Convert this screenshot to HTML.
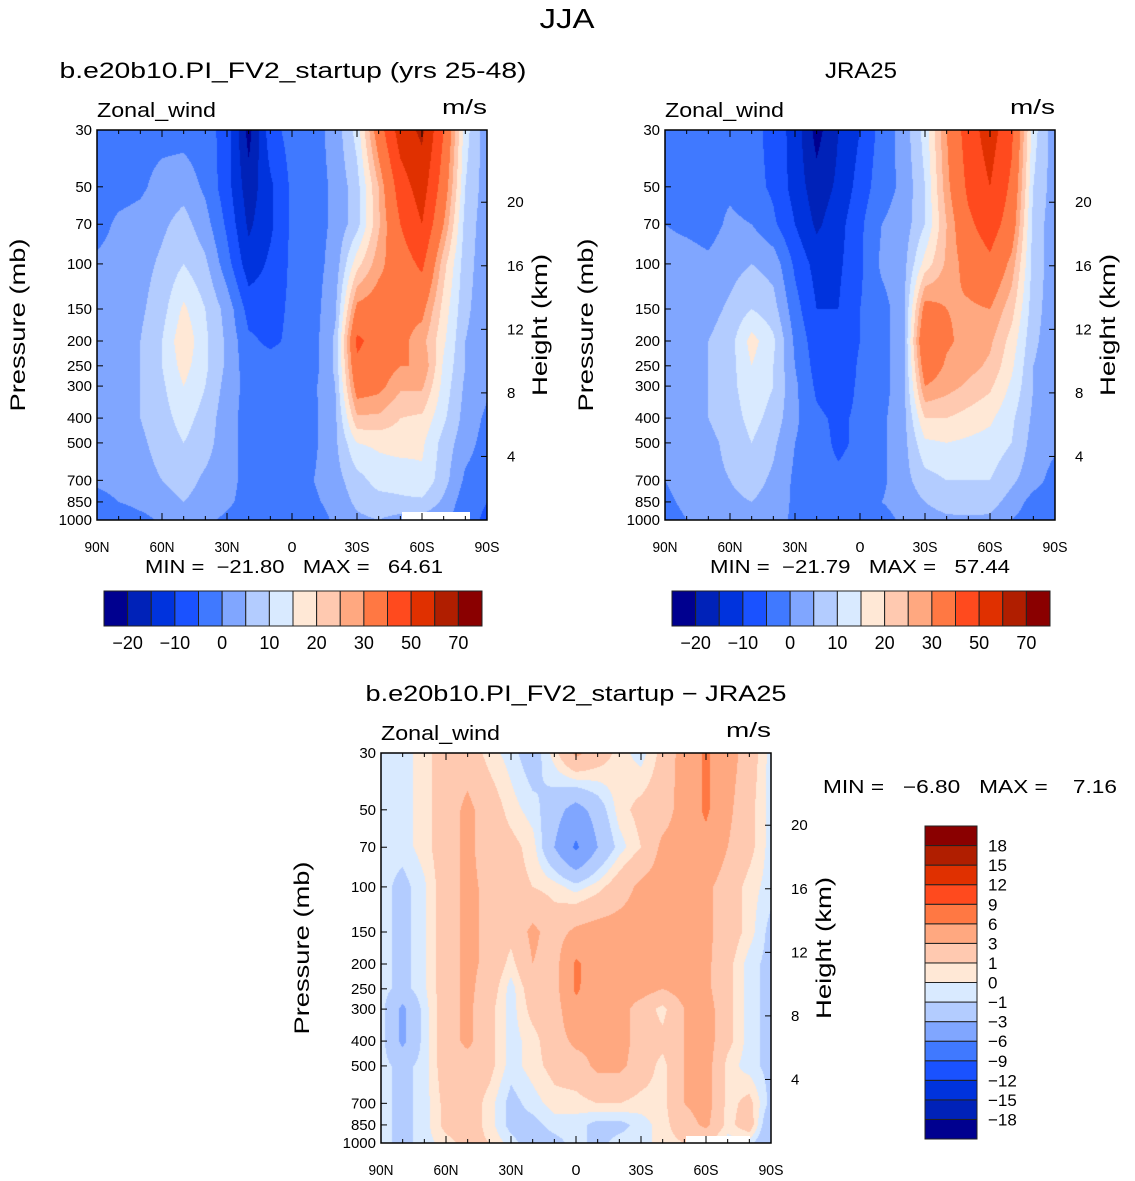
<!DOCTYPE html>
<html><head><meta charset="utf-8">
<style>
body{margin:0;background:#fff;width:1135px;height:1181px;position:relative;overflow:hidden;font-family:"Liberation Sans",sans-serif}
canvas{position:absolute}
svg{position:absolute;left:0;top:0}
text{font-family:"Liberation Sans",sans-serif;fill:#000;white-space:pre}
</style></head><body>
<canvas id="c1" width="390" height="390" style="left:97px;top:130px"></canvas>
<canvas id="c2" width="390" height="390" style="left:665px;top:130px"></canvas>
<canvas id="c3" width="390" height="390" style="left:381px;top:753px"></canvas>
<svg id="ov" width="1135" height="1181"></svg>
<script>
const lats=[90,80,70,60,50,40,30,20,10,0,-10,-20,-30,-40,-50,-60,-70,-80,-90];
const pres=[30,50,70,100,150,200,250,300,400,500,700,850,1000];
const modelU=[
[-2,-2,-2,-2,-2,-3,-7,-22,-7,-3,-2,2,12,35,55,62,40,12,2],
[-2,-2,-1,2,3,-1,-8,-18,-11,-4,-2,1,8,25,45,55,35,10,2],
[-2,1,2,4,7,2,-6,-16,-11,-4,-2,1,8,24,40,50,30,8,2],
[1,2,3,6,10,6,-3,-13,-9,-4,-2,2,18,28,35,42,22,7,2],
[1,3,4,8,16,10,3,-7,-7,-4,-2,4,32,34,32,32,18,6,2],
[2,3,5,10,19,11,4,-4,-6,-4,-2,6,42,36,32,27,16,5,2],
[2,3,5,10,17,11,4,-3,-3,-3,-2,6,38,34,30,30,14,5,2],
[2,3,5,9,15,10,3,-2,-3,-3,-1,5,34,32,26,26,13,4,1],
[2,3,5,8,12,8,2,-2,-3,-3,-1,4,24,24,20,19,11,3,-1],
[1,3,4,7,10,7,2,-2,-3,-3,-1,4,15,16,17,16,8,2,-2],
[1,2,3,5,7,4,2,-2,-3,-3,0,3,8,12,12,14,7,-1,-3],
[-2,0,2,3,5,3,1,-2,-3,-4,-1,2,6,8,9,9,4,-3,-5],
[-3,-5,-2,1,2,1,-1,-3,-3,-5,-3,1,4,5,3,3,1,-3,-6]];
const jraU=[
[-2,-2,-2,-2,-3,-7,-12,-22,-15,-10,-3,2,12,30,45,55,42,12,2],
[-2,-2,-1,-1,-3,-6,-12,-18,-14,-8,-2,1,10,28,42,50,38,10,2],
[0,-1,-2,1,0,-4,-10,-16,-12,-6,0,2,10,25,38,45,35,8,2],
[2,2,1,3,5,3,-6,-12,-11,-6,1,3,17,26,33,38,28,8,2],
[2,3,3,6,10,7,-3,-10,-10,-5,-2,3,33,30,29,30,22,7,2],
[2,4,5,8,17,11,-1,-8,-10,-5,-2,3,40,31,28,26,18,6,2],
[2,4,5,8,15,10,0,-7,-10,-4,-2,3,35,29,27,24,16,5,2],
[2,4,5,8,14,10,1,-6,-8,-4,-2,3,30,27,24,21,14,5,2],
[2,3,5,7,12,8,1,-4,-6,-4,-1,3,20,20,18,16,11,4,2],
[2,3,4,6,10,6,0,-3,-6,-4,-1,3,14,15,14,13,10,3,1],
[0,2,4,5,7,4,-1,-3,-4,-3,-1,3,8,10,10,10,6,2,-2],
[-1,1,3,4,5,3,-1,-3,-5,-3,0,2,5,7,8,7,3,-2,-3],
[-2,0,2,3,3,2,-1,-3,-5,-4,-2,1,3,4,4,4,0,-3,-3]];
const diffU=[
[-0.5,-0.5,0.5,2,2,0.5,-0.5,-2,0.5,3.5,2,0.5,-0.5,1.5,4,6.5,4,2,-0.5],
[-0.5,-0.5,0.5,2,3.5,2,0.5,-0.5,-2,-4,-2,0.5,1.5,2,4,6.5,3.5,1.5,-0.5],
[-0.5,-0.5,0.5,2,3.5,2,1.5,0.5,-3,-6.5,-3,-0.5,1,3.5,4,5,3,1.5,-0.5],
[-0.5,-1.5,-0.2,2,3.5,2.5,1.5,1,0.5,-0.5,0.5,2,3.5,4,4,3.5,2,0.5,-0.5],
[-0.5,-1.5,-0.2,2,3.5,2.5,1.5,3.5,2,3.5,4,4,4,4,4,3.5,2,0.5,-1.5],
[-0.5,-1.5,-0.2,2,3.5,2.5,0.5,3,2,6.5,4.5,4,4,4,4,3.5,1.5,-0.5,-1.5],
[-0.5,-1.5,-0.2,2,3.5,2,-0.5,2,2,6.5,4,4,4,3,4,3.5,1.5,-0.5,-1.5],
[-0.5,-3.5,-0.5,2,3.5,1.5,-0.5,1.5,2,5,4,4,2,0.5,3,4,1.5,-0.5,-1.5],
[-0.5,-3.5,-0.5,2,3.5,1.5,-0.5,0.5,2,3.5,3.5,4,2,1.5,3,4,1.5,-0.5,-1.5],
[-0.5,-1.5,-0.5,2,2,1.5,-0.5,0.5,1.5,2,3.5,3.5,2,0.5,3,4,0.5,-0.5,-1.5],
[-0.5,-1.5,-0.5,1.5,2,0.5,-1.5,-0.5,0.5,0.5,1,1,0.5,0.5,3,4,0.5,1.5,-1.5],
[-0.5,-1.5,-0.5,1.5,2,0.5,-1.5,-1.5,-0.5,-0.5,-1.5,-1.5,-0.5,0.5,2,3.5,0.5,2,-3],
[-0.5,-1.5,-0.5,0.5,1.5,1,-0.5,-2,-1.5,-0.5,-1.5,-0.5,-0.5,0.5,1,1,-0.5,-0.5,-3]];
const levelsAbs=[-20,-15,-10,-5,0,5,10,15,20,25,30,40,50,60,70];
const levelsDiff=[-18,-15,-12,-9,-6,-3,-1,0,1,3,6,9,12,15,18];
const absLabels=["-20","-10","0","10","20","30","50","70"];
const palette=['#00008f','#0022b8','#0033dd','#1a52ff','#4079ff','#80a6ff','#b3ccff','#d9eaff','#ffe8d6','#ffc9b0','#ffa880','#ff7843','#ff4a1e','#e03000','#b01e00','#8a0000'];
const xTicks=["90N","60N","30N","0","30S","60S","90S"];
const pTicks=[30,50,70,100,150,200,250,300,400,500,700,850,1000];
const hTicks=[4,8,12,16,20];
const L=Math.log(1000/30);
function yFrac(p){return Math.log(p/30)/L;}
function hexRGB(h){return [parseInt(h.substr(1,2),16),parseInt(h.substr(3,2),16),parseInt(h.substr(5,2),16)];}
const palRGB=palette.map(hexRGB);
function colorIdx(v,lv){let i=0;while(i<lv.length&&v>=lv[i])i++;return i;}
function sample(g,lat,p){
  let fc=(90-lat)/10;let c0=Math.min(Math.floor(fc),lats.length-2);let tc=fc-c0;
  let lp=Math.log(p);let r0=0;while(r0<pres.length-2&&p>pres[r0+1])r0++;
  let tr=(lp-Math.log(pres[r0]))/(Math.log(pres[r0+1])-Math.log(pres[r0]));tr=Math.max(0,Math.min(1,tr));
  const a=g[r0][c0],b=g[r0][c0+1],c=g[r0+1][c0],d=g[r0+1][c0+1];
  return (a*(1-tc)+b*tc)*(1-tr)+(c*(1-tc)+d*tc)*tr;
}
function drawField(id,g,lv){
  const cv=document.getElementById(id),ctx=cv.getContext('2d');
  const W=cv.width,H=cv.height,img=ctx.createImageData(W,H);
  for(let py=0;py<H;py++){const p=30*Math.exp((py+0.5)/H*L);
    for(let px=0;px<W;px++){const lat=90-(px+0.5)/W*180;
      const col=palRGB[colorIdx(sample(g,lat,p),lv)];const k=(py*W+px)*4;
      img.data[k]=col[0];img.data[k+1]=col[1];img.data[k+2]=col[2];img.data[k+3]=255;}}
  ctx.putImageData(img,0,0);
}
drawField('c1',modelU,levelsAbs);drawField('c2',jraU,levelsAbs);drawField('c3',diffU,levelsDiff);
const NS='http://www.w3.org/2000/svg',ov=document.getElementById('ov');
function el(t,a,txt){const e=document.createElementNS(NS,t);for(const k in a)e.setAttribute(k,a[k]);if(txt!==undefined)e.textContent=txt;ov.appendChild(e);return e;}
function txt(x,y,s,size,anchor,name,rot,len){const a={x:x,y:y,'font-size':size,'text-anchor':anchor||'middle'};if(rot)a.transform='rotate(-90 '+x+' '+y+')';
  if(len){a.textLength=len;a.lengthAdjust='spacingAndGlyphs';}
  const e=el('text',a,s);

return e;}
function panel(x0,y0,pref,title,titleX,titleLen,whites){
  const w=390,h=390;
  whites.forEach(r=>{const e=el('rect',{x:r[0],y:r[1],width:r[2],height:r[3],fill:'#fff'});
  
  });
  const fr=el('rect',{x:x0,y:y0,width:w,height:h,fill:'none',stroke:'#000','stroke-width':1.5});
  
  
  txt(titleX,y0-52,title,22,'middle',pref+'-title',false,titleLen);
  txt(x0,y0-13,'Zonal_wind',20,'start',pref+'-variable-label',false,119);
  txt(x0+w,y0-16,'m/s',20,'end',pref+'-units-label',false,45);
  for(let i=0;i<=18;i++){const x=x0+i*w/18;const l=(i%3==0)?7:4;
    el('line',{x1:x,y1:y0+h,x2:x,y2:y0+h-l,stroke:'#000'});el('line',{x1:x,y1:y0,x2:x,y2:y0+l,stroke:'#000'});}
  xTicks.forEach((t,i)=>{const x=x0+i*w/6;
    txt(x,y0+h+32,t,15,'middle',pref+'-x-tick-label',false,t.length>1?25:9);});
  pTicks.forEach(p=>{const y=y0+yFrac(p)*h;el('line',{x1:x0,y1:y,x2:x0+6,y2:y,stroke:'#000'});
    txt(x0-5,y+5,String(p),15,'end',pref+'-y-tick-label');});
  hTicks.forEach(k=>{const p=1000*Math.exp(-k/7);const y=y0+yFrac(p)*h;
    el('line',{x1:x0+w,y1:y,x2:x0+w-6,y2:y,stroke:'#000'});
    txt(x0+w+20,y+5,String(k),15,'start',pref+'-height-tick-label');});
  txt(x0-72,y0+h/2,'Pressure (mb)',21,'middle',pref+'-y-axis-title',true,173);
  txt(x0+w+60,y0+h/2,'Height (km)',21,'middle',pref+'-height-axis-title',true,142);
}
txt(567,28,'JJA',28,'middle','figure-title',false,55);
panel(97,130,'model','b.e20b10.PI_FV2_startup (yrs 25-48)',293,467,[[402,512,68,8]]);
panel(665,130,'jra','JRA25',861,72,[]);
panel(381,753,'diff','b.e20b10.PI_FV2_startup \u2212 JRA25',576,421,[[686,1136,64,7]]);
txt(294,573,'MIN =  \u221221.80   MAX =   64.61',18,'middle','model-min-max',false,298);
txt(860,573,'MIN =  \u221221.79   MAX =   57.44',18,'middle','jra-min-max',false,300);
txt(970,793,'MIN =   \u22126.80   MAX =    7.16',18,'middle','diff-min-max',false,294);
function hbar(x0,y0,pref){const bw=378/16;
  palette.forEach((c,i)=>{const r=el('rect',{x:x0+i*bw,y:y0,width:bw,height:35,fill:c,stroke:'#222','stroke-width':1});
  
  });
  absLabels.forEach((t,i)=>{txt(x0+(1+2*i)*bw,y0+58,t.replace('-','\u2212'),18,'middle',pref+'-colorbar-label');});
}
hbar(104,591,'model');hbar(672,591,'jra');
const bh=313/16;
palette.forEach((c,i)=>{const r=el('rect',{x:925,y:826+(15-i)*bh,width:52,height:bh,fill:c,stroke:'#222','stroke-width':1});

});
levelsDiff.forEach((v,i)=>{txt(988,826+(15-i)*bh+6,String(v).replace('-','\u2212'),17,'start','diff-colorbar-label');});
</script>
</body></html>
